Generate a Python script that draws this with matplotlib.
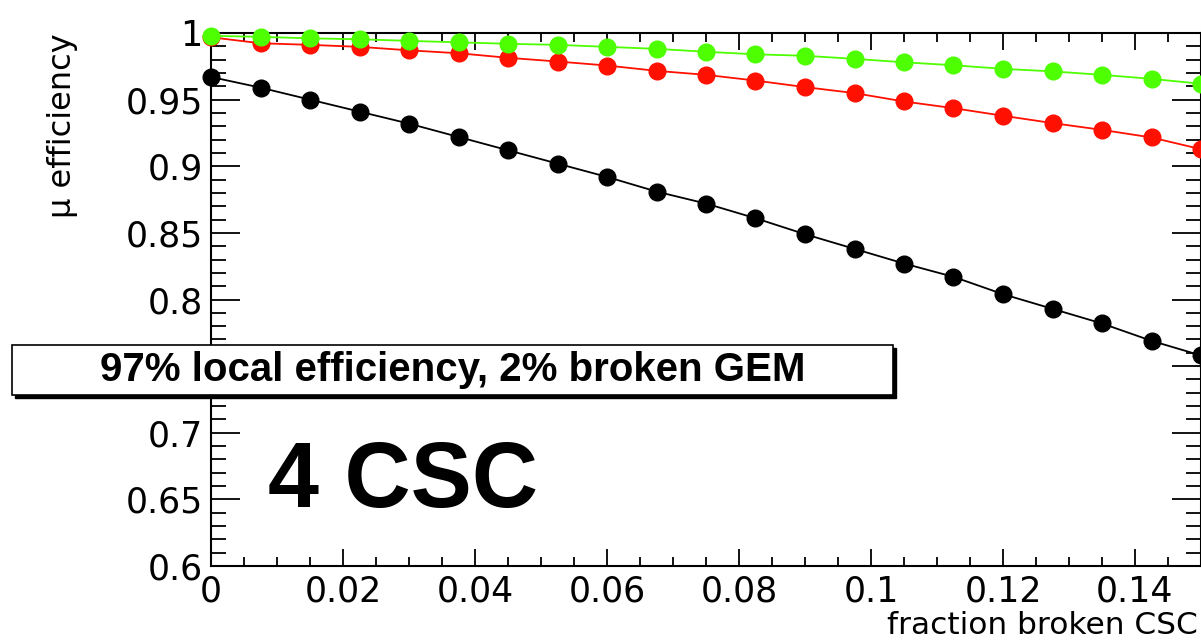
import matplotlib
matplotlib.use("Agg")
import matplotlib.pyplot as plt
from matplotlib.ticker import MultipleLocator, FuncFormatter
from matplotlib.patches import Rectangle

plt.rcParams['font.family'] = ['DejaVu Sans']

# ---- data ----
fraction_broken = [i * 0.0075 for i in range(21)]
eff_black = [0.967, 0.959, 0.950, 0.941, 0.932, 0.922, 0.912, 0.902, 0.892, 0.881,
             0.872, 0.861, 0.849, 0.838, 0.827, 0.817, 0.804, 0.793, 0.782, 0.769, 0.758]
eff_red = [0.9968, 0.9923, 0.9911, 0.9896, 0.9870, 0.9848, 0.9814, 0.9786, 0.9756, 0.9716,
           0.9686, 0.9643, 0.9594, 0.9549, 0.9486, 0.9436, 0.9379, 0.9324, 0.9273, 0.9216, 0.9128]
eff_green = [0.9979, 0.9971, 0.9960, 0.9953, 0.9941, 0.9930, 0.9919, 0.9911, 0.9896, 0.9881,
             0.9859, 0.9840, 0.9829, 0.9806, 0.9780, 0.9758, 0.9731, 0.9712, 0.9686, 0.9656, 0.9619]

x_label = "fraction broken CSC"
y_label = "\u03bc efficiency"
box_text = "97% local efficiency, 2% broken GEM"
big_text = "4 CSC"

W, H = 1201, 640
fig = plt.figure(figsize=(W / 100, H / 100), dpi=100)
ax = fig.add_axes([211 / W, (H - 566) / H, (W - 211) / W, (566 - 33) / H])

for y, c in [(eff_black, 'black'), (eff_red, '#ff1000'), (eff_green, '#4dff00')]:
    ax.plot(fraction_broken, y, color=c, lw=1.3, marker='o', ms=12, mec=c, mfc=c,
            clip_on=False, zorder=3)

ax.set_xlim(0, 0.15)
ax.set_ylim(0.6, 1.0)
ax.xaxis.set_major_locator(MultipleLocator(0.02))
ax.xaxis.set_minor_locator(MultipleLocator(0.005))
ax.yaxis.set_major_locator(MultipleLocator(0.05))
ax.yaxis.set_minor_locator(MultipleLocator(0.01))


def yfmt(v, p):
    # the 0.75 label is hidden behind the text box in the original
    if abs(v - 0.75) < 1e-6:
        return ''
    return '%g' % round(v, 4)


ax.xaxis.set_major_formatter(FuncFormatter(lambda v, p: '%g' % round(v, 4)))
ax.yaxis.set_major_formatter(FuncFormatter(yfmt))

ax.tick_params(axis='both', which='both', direction='in', top=True, right=True,
               width=1.3, labelsize=25)
ax.tick_params(axis='x', which='major', length=12.5, pad=6)
ax.tick_params(axis='x', which='minor', length=6.5)
ax.tick_params(axis='y', which='major', length=21, pad=6)
ax.tick_params(axis='y', which='minor', length=11)
for s in ax.spines.values():
    s.set_linewidth(1.5)

fig.text(1198 / W, (H - 634) / H, x_label, ha='right', va='baseline', fontsize=22.5)
fig.text(62 / W, (H - 33) / H, y_label, ha='center', va='top', rotation=90, fontsize=23)

# text box with shadow
bx0, bx1, by0, by1 = 12, 893, 345, 395
fig.patches.append(Rectangle(((bx0 + 3) / W, (H - by1 - 3) / H), (bx1 - bx0) / W, (by1 - by0) / H,
                             transform=fig.transFigure, facecolor='black', edgecolor='black', zorder=5))
fig.patches.append(Rectangle((bx0 / W, (H - by1) / H), (bx1 - bx0) / W, (by1 - by0) / H,
                             transform=fig.transFigure, facecolor='white', edgecolor='black',
                             lw=1.2, zorder=6))
fig.text((bx0 + bx1) / 2 / W, (H - (by0 + by1) / 2) / H, box_text, ha='center', va='center',
         fontsize=29, fontweight='bold', family=['Liberation Sans', 'DejaVu Sans'], zorder=7)

fig.text(268 / W, (H - 507) / H, big_text, ha='left', va='baseline', fontsize=66,
         fontweight='bold', family=['Liberation Sans', 'DejaVu Sans'])

fig.savefig('out.png', dpi=100)
